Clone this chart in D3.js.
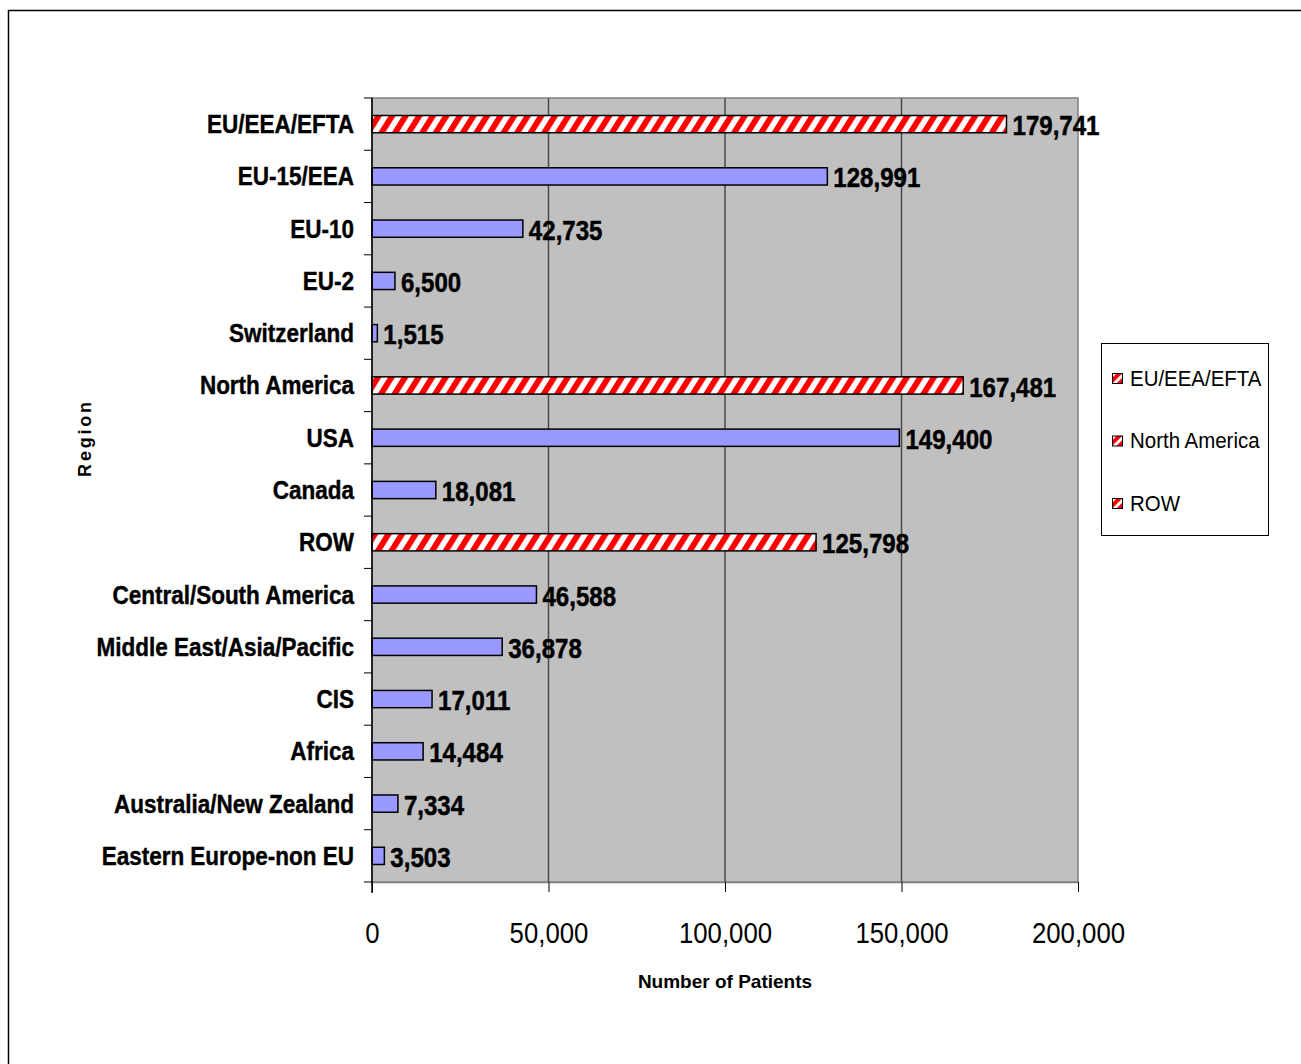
<!DOCTYPE html>
<html>
<head>
<meta charset="utf-8">
<script src="https://cdn.jsdelivr.net/npm/d3@7"></script>
<style>
  html, body { margin: 0; padding: 0; background: #fff; }
  svg { display: block; }
</style>
</head>
<body>
<script>
// ---- data ----
const categories = [
  "EU/EEA/EFTA", "EU-15/EEA", "EU-10", "EU-2", "Switzerland",
  "North America", "USA", "Canada", "ROW",
  "Central/South America", "Middle East/Asia/Pacific", "CIS", "Africa",
  "Australia/New Zealand", "Eastern Europe-non EU"
];
const patients = [
  179741, 128991, 42735, 6500, 1515,
  167481, 149400, 18081, 125798,
  46588, 36878, 17011, 14484,
  7334, 3503
];
const isAggregate = [
  true, false, false, false, false,
  true, false, false, true,
  false, false, false, false,
  false, false
];
const xTicks = [0, 50000, 100000, 150000, 200000];
const legendLabels = ["EU/EEA/EFTA", "North America", "ROW"];
const xTitle = "Number of Patients";
const yTitle = "Region";

// ---- layout ----
const W = 1301, H = 1064;
const plot = { left: 372, top: 98, right: 1078, bottom: 882 };

const svg = d3.select("body").append("svg")
  .attr("width", W).attr("height", H)
  .style("font-family", "'Liberation Sans', Arial, sans-serif");

const defs = svg.append("defs");
const pat = defs.append("pattern")
  .attr("id", "hatch")
  .attr("patternUnits", "userSpaceOnUse")
  .attr("width", 11.5).attr("height", 11.5)
  .attr("patternTransform", "rotate(32)");
pat.append("rect").attr("width", 11.5).attr("height", 11.5).attr("fill", "#fff");
pat.append("rect").attr("x", 0).attr("width", 5.9).attr("height", 11.5).attr("fill", "#ff0000");

const patS = defs.append("pattern")
  .attr("id", "hatchSmall")
  .attr("patternUnits", "userSpaceOnUse")
  .attr("width", 7).attr("height", 7)
  .attr("patternTransform", "rotate(45)");
patS.append("rect").attr("width", 7).attr("height", 7).attr("fill", "#fff");
patS.append("rect").attr("width", 4).attr("height", 7).attr("fill", "#ff0000");

// outer frame
svg.append("rect")
  .attr("x", 8.5).attr("y", 10.5)
  .attr("width", W + 20).attr("height", H + 20)
  .attr("fill", "none").attr("stroke", "#000").attr("stroke-width", 1.5);

const x = d3.scaleLinear().domain([0, 200000]).range([plot.left, plot.right]);
const y = d3.scaleBand().domain(categories).range([plot.top, plot.bottom]).paddingInner(0.67).paddingOuter(0.335);
const yb = d3.scaleBand().domain(categories).range([plot.top, plot.bottom]);

// plot background
svg.append("rect")
  .attr("x", plot.left).attr("y", plot.top)
  .attr("width", plot.right - plot.left).attr("height", plot.bottom - plot.top)
  .attr("fill", "#c0c0c0").attr("stroke", "#808080").attr("stroke-width", 1.5);

// gridlines
svg.append("g").selectAll("line")
  .data(xTicks.slice(1, -1)).join("line")
  .attr("x1", d => x(d)).attr("x2", d => x(d))
  .attr("y1", plot.top).attr("y2", plot.bottom)
  .attr("stroke", "#4a4a4a").attr("stroke-width", 1.5);

// bars
svg.append("g").selectAll("rect")
  .data(categories).join("rect")
  .attr("x", x(0))
  .attr("y", (d) => y(d))
  .attr("width", (d, i) => x(patients[i]) - x(0))
  .attr("height", y.bandwidth())
  .attr("fill", (d, i) => isAggregate[i] ? "url(#hatch)" : "#9999ff")
  .attr("stroke", "#000").attr("stroke-width", 1.5);

// x axis
const xAxis = svg.append("g")
  .attr("transform", `translate(0,${plot.bottom})`)
  .call(d3.axisBottom(x).tickValues(xTicks).tickFormat(d3.format(",")).tickSize(10).tickSizeOuter(0));
xAxis.select(".domain").attr("stroke", "#808080").attr("stroke-width", 1.5);
xAxis.selectAll(".tick line").attr("stroke", "#000").attr("stroke-width", 1);
xAxis.selectAll(".tick text").remove();
xAxis.selectAll(".tick").append("g")
  .attr("transform", "translate(0,61) scale(0.86,1)")
  .append("text")
  .attr("text-anchor", "middle")
  .attr("fill", "#000")
  .attr("font-size", 30)
  .attr("font-family", "'Liberation Sans', Arial, sans-serif")
  .text(d => d3.format(",")(d));

// y axis
const yAxis = svg.append("g")
  .attr("transform", `translate(${plot.left},0)`)
  .call(d3.axisLeft(yb).tickSize(0).tickFormat(""));
yAxis.select(".domain").remove();
svg.append("line")
  .attr("x1", plot.left).attr("x2", plot.left)
  .attr("y1", plot.top).attr("y2", plot.bottom + 11)
  .attr("stroke", "#000").attr("stroke-width", 1.5);
// band boundary ticks
const bounds = categories.map(c => yb(c)).concat([plot.bottom]);
svg.append("g").selectAll("line").data(bounds).join("line")
  .attr("x1", plot.left - 8).attr("x2", plot.left)
  .attr("y1", d => d).attr("y2", d => d)
  .attr("stroke", "#000").attr("stroke-width", 1);

// category labels
svg.append("g").selectAll("g")
  .data(categories).join("g")
  .attr("transform", d => `translate(354,${yb(d) + yb.bandwidth() / 2}) scale(0.9,1)`)
  .append("text")
  .attr("text-anchor", "end")
  .attr("dy", "0.36em")
  .attr("font-weight", "bold")
  .attr("font-size", 25)
  .attr("fill", "#000")
  .attr("stroke", "#000").attr("stroke-width", 0.4)
  .text(d => d);

// value labels
svg.append("g").selectAll("g")
  .data(categories).join("g")
  .attr("transform", (d, i) => `translate(${x(patients[i]) + 6},${yb(d) + yb.bandwidth() / 2 + 1}) scale(0.86,1)`)
  .append("text")
  .attr("text-anchor", "start")
  .attr("dy", "0.36em")
  .attr("font-weight", "bold")
  .attr("font-size", 28)
  .attr("fill", "#000")
  .attr("stroke", "#000").attr("stroke-width", 0.5)
  .text((d, i) => d3.format(",")(patients[i]));

// axis titles
svg.append("text")
  .attr("x", (plot.left + plot.right) / 2).attr("y", 988)
  .attr("text-anchor", "middle")
  .attr("font-weight", "bold").attr("font-size", 19)
  .text(xTitle);

svg.append("text")
  .attr("transform", "translate(91,438) rotate(-90)")
  .attr("text-anchor", "middle")
  .attr("font-weight", "bold").attr("font-size", 18)
  .attr("letter-spacing", 2.8)
  .text(yTitle);

// legend
const lg = svg.append("g");
lg.append("rect")
  .attr("x", 1101.5).attr("y", 343.5).attr("width", 167).attr("height", 192)
  .attr("fill", "#fff").attr("stroke", "#000").attr("stroke-width", 1);
const items = lg.selectAll("g.item").data(legendLabels).join("g")
  .attr("class", "item")
  .attr("transform", (d, i) => `translate(1112,${378 + i * 62.5})`);
items.append("rect")
  .attr("x", 0.5).attr("y", -4.5).attr("width", 10).attr("height", 10)
  .attr("fill", "url(#hatchSmall)").attr("stroke", "#000").attr("stroke-width", 1);
items.append("g").attr("transform", "translate(18,0) scale(0.93,1)")
  .append("text")
  .attr("dy", "0.36em")
  .attr("font-size", 22)
  .attr("fill", "#000")
  .text(d => d);
</script>
</body>
</html>
